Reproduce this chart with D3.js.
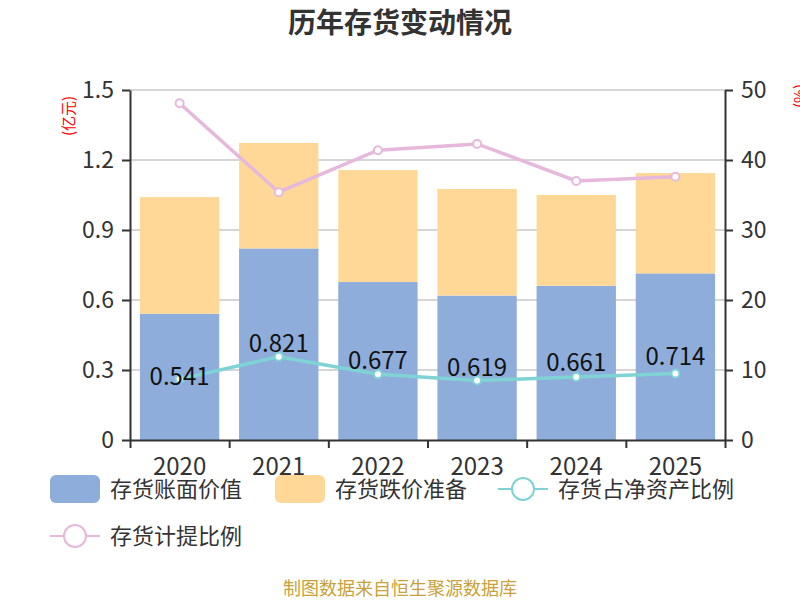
<!DOCTYPE html>
<html lang="zh">
<head>
<meta charset="utf-8">
<title>历年存货变动情况</title>
<script src="https://cdn.jsdelivr.net/npm/d3@7/dist/d3.min.js"></script>
<style>
  body { margin: 0; background: #fff; }
  svg, svg text { font-family: "Noto Sans CJK SC", "Noto Sans", sans-serif; }
  .axis text { font-size: 23px; fill: #333; }
  .axis path, .axis line { stroke: #333; stroke-width: 2; }
</style>
</head>
<body>
<script>
// data
var years = ["2020", "2021", "2022", "2023", "2024", "2025"];
var bookValue = [0.541, 0.821, 0.677, 0.619, 0.661, 0.714];     // 存货账面价值 (亿元)
var impairment = [0.500, 0.452, 0.480, 0.457, 0.389, 0.430];    // 存货跌价准备 (亿元)
var shareOfNetAssets = [8.7, 11.9, 9.4, 8.5, 9.0, 9.5];         // 存货占净资产比例 (%)
var provisionRatio = [48.1, 35.4, 41.4, 42.3, 37.0, 37.6];      // 存货计提比例 (%)
var leftTicks = [0, 0.3, 0.6, 0.9, 1.2, 1.5];
var rightTicks = [0, 10, 20, 30, 40, 50];

var w = 800, h = 600;
var mLeft = 130, mRight = 725, mTop = 90, mBottom = 440;

var colBook = "#8eaddb", colImp = "#ffd898", colShare = "#7fd3d5", colProv = "#e6b8dc";

var svg = d3.select("body").append("svg")
    .attr("width", w)
    .attr("height", h);

var xScale = d3.scaleBand().domain(years).range([mLeft, mRight]).paddingInner(0.2).paddingOuter(0.1);
var yScale = d3.scaleLinear().domain([0, 1.5]).range([mBottom, mTop]);
var rScale = d3.scaleLinear().domain([0, 50]).range([mBottom, mTop]);

// title
svg.append("text")
    .attr("x", w / 2).attr("y", 33)
    .attr("text-anchor", "middle")
    .style("font-size", "28px").style("font-weight", "bold").style("fill", "#333")
    .text("历年存货变动情况");

// gridlines
svg.append("g").selectAll("line")
    .data(leftTicks.slice(1))
    .enter().append("line")
    .attr("x1", mLeft).attr("x2", mRight)
    .attr("y1", function(d) { return yScale(d); })
    .attr("y2", function(d) { return yScale(d); })
    .attr("stroke", "#c8c8c8").attr("stroke-width", 1.5);

// stacked bars
var bars = svg.append("g");
bars.selectAll(".book")
    .data(years)
    .enter().append("rect")
    .attr("x", function(d) { return xScale(d); })
    .attr("width", xScale.bandwidth())
    .attr("y", function(d, i) { return yScale(bookValue[i]); })
    .attr("height", function(d, i) { return mBottom - yScale(bookValue[i]); })
    .attr("fill", colBook);
bars.selectAll(".imp")
    .data(years)
    .enter().append("rect")
    .attr("x", function(d) { return xScale(d); })
    .attr("width", xScale.bandwidth())
    .attr("y", function(d, i) { return yScale(bookValue[i] + impairment[i]); })
    .attr("height", function(d, i) { return yScale(bookValue[i]) - yScale(bookValue[i] + impairment[i]); })
    .attr("fill", colImp);

// axes
var xAxis = d3.axisBottom(d3.scaleLinear().domain([0, 6]).range([mLeft, mRight]))
    .tickValues([0, 1, 2, 3, 4, 5, 6]).tickSize(8).tickSizeOuter(0).tickFormat("");
svg.append("g").attr("class", "axis")
    .attr("transform", "translate(0," + mBottom + ")")
    .call(xAxis);
svg.append("g")
    .selectAll("text")
    .data(years)
    .enter().append("text")
    .attr("x", function(d) { return xScale(d) + xScale.bandwidth() / 2; })
    .attr("y", mBottom + 35)
    .attr("text-anchor", "middle")
    .style("font-size", "24px").style("fill", "#333")
    .text(function(d) { return d; });

var yAxisL = d3.axisLeft(yScale).tickValues(leftTicks).tickSize(8).tickSizeOuter(0).tickPadding(8)
    .tickFormat(function(d) { return d === 0 ? "0" : d3.format(".1f")(d); });
svg.append("g").attr("class", "axis")
    .attr("transform", "translate(" + mLeft + ",0)")
    .call(yAxisL);

var yAxisR = d3.axisRight(rScale).tickValues(rightTicks).tickSize(8).tickSizeOuter(0).tickPadding(8);
svg.append("g").attr("class", "axis")
    .attr("transform", "translate(" + mRight + ",0)")
    .call(yAxisR);

// axis unit labels
svg.append("text")
    .attr("transform", "translate(74,116) rotate(-90)")
    .attr("text-anchor", "middle")
    .style("font-size", "15px").style("fill", "red")
    .text("(亿元)");
svg.append("text")
    .attr("transform", "translate(805,96) rotate(-90)")
    .attr("text-anchor", "middle")
    .style("font-size", "15px").style("fill", "red")
    .text("(%)");

// lines
function drawLine(values, color) {
    var pts = years.map(function(d, i) {
        return [xScale(d) + xScale.bandwidth() / 2, rScale(values[i])];
    });
    svg.append("path")
        .attr("d", d3.line()(pts))
        .attr("fill", "none").attr("stroke", color).attr("stroke-width", 3.5);
    svg.append("g").selectAll("circle")
        .data(pts)
        .enter().append("circle")
        .attr("cx", function(p) { return p[0]; })
        .attr("cy", function(p) { return p[1]; })
        .attr("r", 4)
        .attr("fill", "#fff").attr("stroke", color).attr("stroke-width", 2);
}
drawLine(provisionRatio, colProv);
drawLine(shareOfNetAssets, colShare);

// value labels in the middle of the book-value bars
svg.append("g").selectAll("text")
    .data(years)
    .enter().append("text")
    .attr("x", function(d) { return xScale(d) + xScale.bandwidth() / 2; })
    .attr("y", function(d, i) { return (yScale(bookValue[i]) + mBottom) / 2 + 8; })
    .attr("text-anchor", "middle")
    .style("font-size", "24px").style("fill", "#111")
    .text(function(d, i) { return d3.format(".3f")(bookValue[i]); });

// legend
var legend = svg.append("g");
var items = [
    { name: "存货账面价值", type: "rect", color: colBook, x: 50, y: 489 },
    { name: "存货跌价准备", type: "rect", color: colImp, x: 275, y: 489 },
    { name: "存货占净资产比例", type: "line", color: colShare, x: 498, y: 489 },
    { name: "存货计提比例", type: "line", color: colProv, x: 50, y: 536 }
];
items.forEach(function(it) {
    var g = legend.append("g").attr("transform", "translate(" + it.x + "," + it.y + ")");
    if (it.type === "rect") {
        g.append("rect").attr("x", 0).attr("y", -14).attr("width", 50).attr("height", 28)
            .attr("rx", 6).attr("fill", it.color);
    } else {
        g.append("line").attr("x1", 0).attr("x2", 50).attr("y1", 0).attr("y2", 0)
            .attr("stroke", it.color).attr("stroke-width", 2);
        g.append("circle").attr("cx", 25).attr("cy", 0).attr("r", 11)
            .attr("fill", "#fff").attr("stroke", it.color).attr("stroke-width", 2);
    }
    g.append("text").attr("x", 60).attr("y", 8)
        .style("font-size", "22px").style("fill", "#333")
        .text(it.name);
});

// source
svg.append("text")
    .attr("x", w / 2).attr("y", 595)
    .attr("text-anchor", "middle")
    .style("font-size", "18px").style("fill", "#c9a13a")
    .text("制图数据来自恒生聚源数据库");
</script>
</body>
</html>
